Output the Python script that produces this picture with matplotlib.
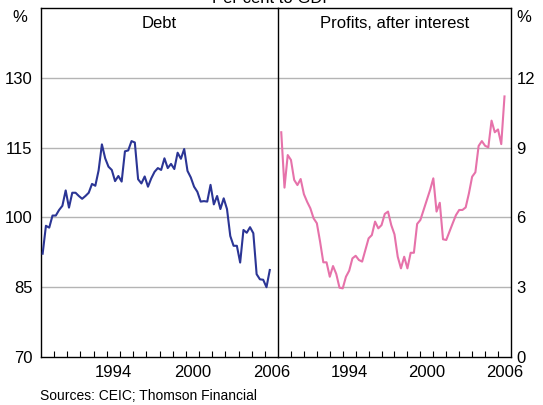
import numpy as np
import matplotlib
matplotlib.use('Agg')
import matplotlib.pyplot as plt

plt.rcParams['font.family'] = ['Liberation Sans', 'DejaVu Sans']

# Quarterly data, per cent to GDP
debt = [92.2, 98.2, 97.8, 100.4, 100.4, 101.6, 102.5, 105.8, 102.1, 105.3,
        105.3, 104.6, 104.0, 104.6, 105.3, 107.2, 106.8, 110.1, 115.7, 112.7,
        110.9, 110.2, 107.8, 108.9, 107.7, 114.2, 114.4, 116.4, 116.1, 108.2,
        107.3, 108.8, 106.6, 108.4, 109.8, 110.6, 110.2, 112.7, 110.6, 111.5,
        110.4, 113.9, 112.6, 114.7, 110.0, 108.6, 106.6, 105.5, 103.4, 103.5,
        103.4, 107.0, 102.8, 104.6, 101.8, 104.1, 101.8, 96.0, 93.9, 93.9,
        90.3, 97.3, 96.7, 97.9, 96.6, 87.8, 86.7, 86.6, 85.0, 88.7]

profits = [9.66, 7.28, 8.68, 8.47, 7.61, 7.39, 7.65, 7.00, 6.67, 6.39,
           5.96, 5.75, 4.96, 4.07, 4.07, 3.45, 3.91, 3.57, 2.98, 2.95,
           3.45, 3.71, 4.24, 4.35, 4.17, 4.10, 4.60, 5.10, 5.24, 5.82,
           5.53, 5.67, 6.15, 6.25, 5.67, 5.27, 4.31, 3.81, 4.31, 3.81,
           4.48, 4.48, 5.72, 5.89, 6.32, 6.75, 7.18, 7.68, 6.25, 6.63,
           5.06, 5.03, 5.39, 5.75, 6.10, 6.32, 6.32, 6.43, 7.03, 7.75,
           7.94, 9.07, 9.28, 9.08, 9.01, 10.16, 9.66, 9.78, 9.15, 11.2]

debt_dates = 1989.125 + 0.25 * np.arange(len(debt))
profit_dates = 1989.25 + 0.25 * np.arange(len(profits))

year_labels = ['1994', '2000', '2006']
label_pos = [1994.5, 2000.5, 2006.5]
left_ticks = [70, 85, 100, 115, 130]
right_ticks = [0, 3, 6, 9, 12]

debt_color = '#2b3595'
profit_color = '#e672aa'
grid_color = '#b4b4b4'

fig = plt.figure(figsize=(5.43, 4.05), dpi=100)
ax1 = fig.add_axes([0.0755, 0.1185, 0.4365, 0.8617])
ax2 = fig.add_axes([0.512, 0.1185, 0.429, 0.8617])

for ax, ticks, lo, hi in [(ax1, left_ticks, 70, 145), (ax2, right_ticks, 0, 15)]:
    ax.set_xlim(1989, 2007)
    ax.set_ylim(lo, hi)
    for t in ticks[1:]:
        ax.axhline(t, color=grid_color, lw=1, zorder=1)
    ax.set_yticks(ticks)
    ax.set_xticks(label_pos)
    ax.set_xticklabels(year_labels, fontsize=12)
    ax.set_xticks(np.arange(1990, 2007), minor=True)
    ax.tick_params(axis='x', which='major', length=0, pad=6)
    ax.tick_params(axis='x', which='minor', direction='in', length=4.5, width=0.8)
    ax.tick_params(axis='y', length=0, labelsize=12)
    for s in ax.spines.values():
        s.set_linewidth(1)

ax2.yaxis.tick_right()
ax2.tick_params(axis='y', pad=4)
ax1.tick_params(axis='y', pad=6)
ax1.spines['right'].set_visible(False)

ax1.plot(debt_dates, debt, color=debt_color, lw=1.5, zorder=3)
ax2.plot(profit_dates, profits, color=profit_color, lw=1.5, zorder=3)

ax1.text(0.5, 0.955, 'Debt', transform=ax1.transAxes, ha='center', va='center', fontsize=12)
ax2.text(0.5, 0.955, 'Profits, after interest', transform=ax2.transAxes,
         ha='center', va='center', fontsize=12)

fig.text(20 / 543, 1 - 18 / 405, '%', ha='center', va='center', fontsize=12)
fig.text(524 / 543, 1 - 18 / 405, '%', ha='center', va='center', fontsize=12)
# title sits mostly above the top edge, as in the original
fig.text(273 / 543, 1 - 3 / 405, 'Per cent to GDP', ha='center', va='baseline', fontsize=12)
fig.text(40 / 543, 1 - 400 / 405, 'Sources: CEIC; Thomson Financial', ha='left',
         va='baseline', fontsize=10)

fig.savefig('out.png', dpi=100)
